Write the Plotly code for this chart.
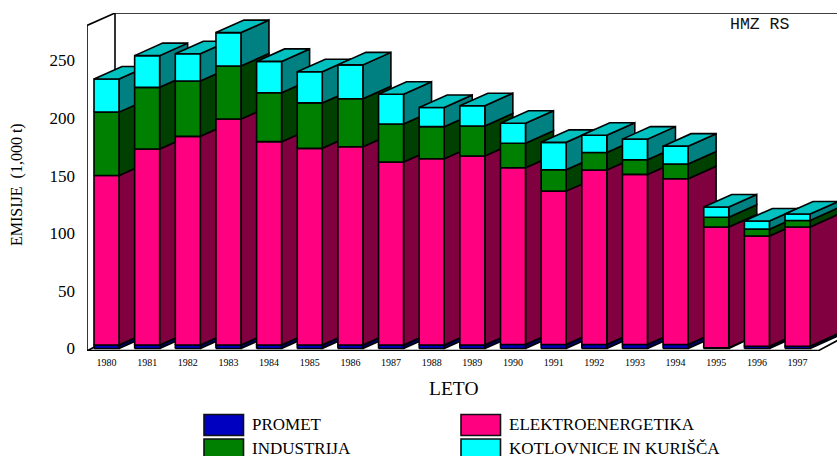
import plotly.graph_objects as go

years = [str(y) for y in range(1980, 1998)]
promet = [3, 3, 3, 3, 3, 3, 3, 3, 3, 3, 3.5, 3.5, 3.5, 3.5, 3.5, 0.7, 2, 2]
elektro = [147, 170, 181, 196, 176.4, 170.6, 172, 158.7, 161.6, 164, 153.3, 133, 151.3, 147.5, 143.7, 104.7, 95.6, 103.4]
industrija = [55, 53.5, 48, 46, 42.4, 39.4, 41.6, 33, 27.8, 26, 21.2, 18.5, 15.2, 12.7, 12.8, 8.4, 5.9, 5.6]
kotlovnice = [28.7, 27.5, 23.7, 29, 27.2, 27, 29.4, 25.8, 16.6, 17.6, 17.3, 23.8, 15, 17.9, 15.5, 8.9, 7.1, 5.6]

series = [
    ("PROMET", promet, "#0000C0", "#000060"),
    ("ELEKTROENERGETIKA", elektro, "#FF0080", "#800040"),
    ("INDUSTRIJA", industrija, "#008000", "#004000"),
    ("KOTLOVNICE IN KURIŠČA", kotlovnice, "#00FFFF", "#008080"),
]
top_colour = "#00C0C0"
y_ticks = [0, 50, 100, 150, 200, 250]

W, H = 837, 456
ML, MR, MT, MB = 87, 0, 13, 105
X_STEP = 40.65
X0 = 106.5
Y_SCALE = 1.153
Y0 = 348.5
x_rng = [(ML - X0) / X_STEP, (W - MR - X0) / X_STEP]
y_rng = [(Y0 - (H - MB)) / Y_SCALE, (Y0 - MT) / Y_SCALE]
BAR = 25 / X_STEP
DX = 28 / X_STEP
DY = 12.5 / Y_SCALE
SERIF = "Liberation Serif"
LW = 1.6

fig = go.Figure()


def poly(xs, ys, colour):
    fig.add_trace(go.Scatter(
        x=xs + xs[:1], y=ys + ys[:1], mode="lines", fill="toself", fillcolor=colour,
        line=dict(color="black", width=LW), showlegend=False, hoverinfo="skip",
        cliponaxis=True))


for i in range(len(years)):
    l, r = i - BAR / 2, i + BAR / 2
    base = 0
    for name, vals, face, side in series:
        t = base + vals[i]
        poly([r, r + DX, r + DX, r], [base, base + DY, t + DY, t], side)
        poly([l, r, r, l], [base, base, t, t], face)
        base = t
    poly([l, r, r + DX, l + DX], [base, base, base + DY, base + DY], top_colour)

frame_x0 = x_rng[0]
frame_y = y_rng[1]
frame_left_top = frame_y - DY
line = dict(color="black", width=1.6)
shapes = [
    dict(type="line", x0=frame_x0, x1=frame_x0, y0=y_rng[0], y1=frame_left_top, line=line),
    dict(type="line", x0=frame_x0, x1=frame_x0 + DX, y0=frame_left_top, y1=frame_y, line=line),
    dict(type="line", x0=frame_x0 + DX, x1=x_rng[1], y0=frame_y, y1=frame_y, line=line),
    dict(type="line", x0=frame_x0 + DX, x1=frame_x0 + DX, y0=DY, y1=frame_y, line=line),
    dict(type="line", x0=frame_x0, x1=frame_x0 + DX, y0=y_rng[0], y1=DY, line=line),
    dict(type="line", x0=frame_x0 + DX, x1=x_rng[1], y0=DY, y1=DY, line=line),
    dict(type="line", x0=frame_x0, x1=17.5, y0=y_rng[0], y1=y_rng[0], line=dict(color="black", width=2.4)),
    dict(type="line", x0=17.5, x1=17.5 + DX, y0=y_rng[0], y1=DY, line=line),
]
for s in shapes:
    s.update(xref="x", yref="y", layer="below")


def px(x):
    return (x - ML) / (W - ML - MR)


def py(y):
    return 1 - (y - MT) / (H - MT - MB)


annotations = [
    dict(text="EMISIJE\u00a0\u00a0(1,000 t)", x=17, y=185, textangle=-90, size=16),
    dict(text="LETO", x=453, y=388, size=19.5),
]
ann = []
for a in annotations:
    ann.append(dict(text=a["text"], x=px(a["x"]), y=py(a["y"]), xref="paper", yref="paper",
                    showarrow=False, textangle=a.get("textangle", 0), xanchor="center", yanchor="middle",
                    font=dict(family=SERIF, size=a["size"], color="black")))
ann.append(dict(text="HMZ RS", x=px(760), y=py(24), xref="paper", yref="paper", showarrow=False,
                xanchor="center", yanchor="middle",
                font=dict(family="Liberation Mono", size=16.5, color="#111111")))

legend_slots = [(204, 414.5, 424), (461, 414.5, 424), (204, 439, 448.5), (461, 439, 448.5)]
for (name, vals, face, side), (lx, ly, ty) in zip(series, legend_slots):
    shapes.append(dict(type="rect", xref="paper", yref="paper", x0=px(lx), x1=px(lx + 39.5), y0=py(ly), y1=py(ly + 21),
                       fillcolor=face, line=dict(color="#111111", width=1.6)))
    ann.append(dict(text=name, x=px(lx + 45.5), y=py(ty), xref="paper", yref="paper", showarrow=False,
                    xanchor="left", yanchor="middle",
                    font=dict(family=SERIF, size=17, color="black")))

fig.update_layout(
    width=W, height=H, margin=dict(l=ML, r=MR, t=MT, b=MB, pad=0),
    paper_bgcolor="white", plot_bgcolor="white", showlegend=False,
    shapes=shapes, annotations=ann,
    xaxis=dict(range=x_rng, tickmode="array", tickvals=list(range(len(years))), ticktext=years,
               showgrid=False, zeroline=False, showline=False, ticks="",
               tickangle=0, ticklabelstandoff=4, tickfont=dict(family=SERIF, size=10, color="black")),
    yaxis=dict(range=y_rng, tickmode="array", tickvals=y_ticks, showgrid=False, zeroline=False,
               showline=False, ticks="", ticklabelstandoff=11,
               tickfont=dict(family=SERIF, size=17, color="black")),
)

fig.write_html("out.html", config=dict(displayModeBar=False),
               post_script="document.body.style.margin='0';")
